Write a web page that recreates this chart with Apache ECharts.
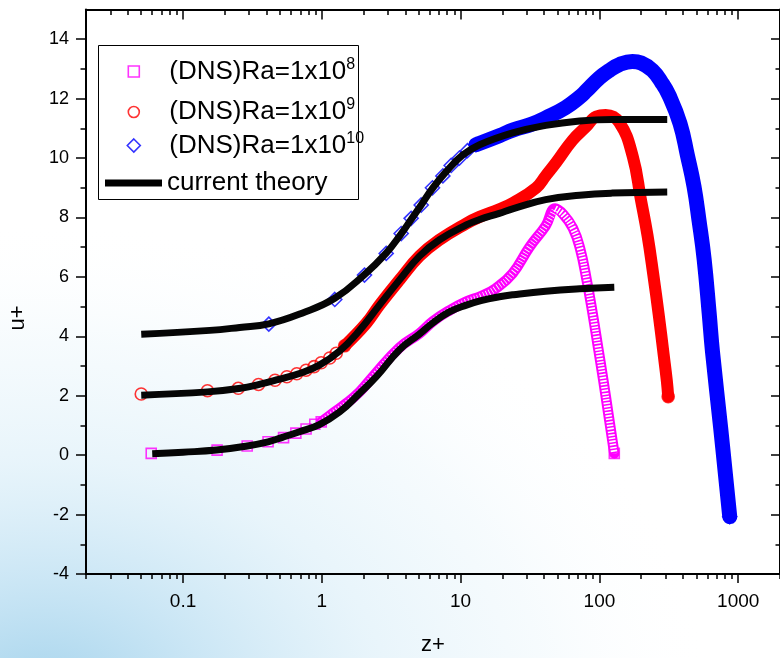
<!DOCTYPE html>
<html><head><meta charset="utf-8">
<script src="https://cdn.jsdelivr.net/npm/echarts@6/dist/echarts.min.js"></script>
<style>html,body{margin:0;padding:0;background:#fff}#c{width:780px;height:658px}</style>
</head><body><div id="c"></div>
<script>
// ---- DNS data ----
const z8 = [0.059, 0.176, 0.29, 0.41, 0.53, 0.65, 0.77, 0.89, 0.99, 1.2, 1.5, 1.87, 2.33, 3.63, 5.06, 6.3, 8.3, 11, 14, 18, 23.7, 31.3, 41, 48, 55, 64.4, 72.5, 81, 89.3, 97.6, 106.6, 115.8, 128];
const u8 = [0.06, 0.17, 0.31, 0.45, 0.59, 0.74, 0.88, 1.04, 1.12, 1.41, 1.74, 2.13, 2.64, 3.62, 4.1, 4.5, 4.87, 5.17, 5.35, 5.62, 6.12, 7.0, 7.72, 8.3, 8.1, 7.64, 6.96, 5.89, 4.77, 3.65, 2.53, 1.41, 0.06];
const z9 = [0.05, 0.15, 0.25, 0.35, 0.46, 0.56, 0.66, 0.77, 0.88, 0.99, 1.14, 1.27, 1.46, 2.09, 2.6, 3.63, 5.06, 7.05, 11, 13.7, 19, 24, 35, 41, 49, 64, 80, 95, 111, 139, 174, 199, 222, 244, 267, 290, 306, 313];
const u9 = [2.06, 2.17, 2.25, 2.38, 2.52, 2.64, 2.74, 2.86, 2.98, 3.11, 3.27, 3.43, 3.68, 4.44, 5.05, 5.9, 6.7, 7.25, 7.8, 8.02, 8.28, 8.5, 9.0, 9.4, 9.86, 10.6, 11.05, 11.4, 11.45, 11.2, 10.05, 8.6, 7.4, 6.1, 4.75, 3.4, 2.5, 1.97];
const z10 = [0.415, 1.24, 2.03, 2.91, 3.73, 4.4, 5.2, 6.27, 7.45, 8.55, 9.8, 11.2, 12.9, 19, 24, 33, 41, 57, 72, 80, 100, 118, 140, 173, 200, 241, 280, 318, 381, 430, 480, 522, 568, 617, 652, 748, 869];
const u10 = [4.41, 5.24, 6.06, 6.79, 7.46, 7.97, 8.42, 9.0, 9.4, 9.75, 10.0, 10.25, 10.45, 10.75, 10.95, 11.15, 11.35, 11.7, 12.05, 12.25, 12.7, 12.95, 13.15, 13.25, 13.2, 12.95, 12.55, 12.1, 11.16, 10.1, 9.05, 7.9, 6.6, 4.8, 3.5, 0.9, -2.07];
// number of leading points drawn as separate hollow markers
const sparse8 = 9, sparse9 = 13, sparse10 = 13;
// index of the Ra=1e8 peak, after which the square markers are seen one by one
const peak8 = 23;

// ---- current theory ----
const zt8 = [0.06, 0.1, 0.174, 0.29, 0.41, 0.52, 0.69, 0.96, 1.34, 1.87, 2.47, 3.63, 5.06, 6.3, 8.3, 11, 14, 19, 24, 41, 72, 128];
const ut8 = [0.05, 0.1, 0.17, 0.31, 0.45, 0.6, 0.79, 1.03, 1.45, 2.08, 2.64, 3.55, 4.08, 4.45, 4.82, 5.05, 5.2, 5.33, 5.4, 5.52, 5.6, 5.65];
const zt9 = [0.05, 0.15, 0.26, 0.36, 0.47, 0.69, 0.96, 1.34, 1.87, 2.6, 3.63, 5.06, 7.05, 11, 13.7, 19, 24, 41, 72, 123, 308];
const ut9 = [2.02, 2.13, 2.25, 2.39, 2.53, 2.75, 3.03, 3.5, 4.2, 5.05, 5.9, 6.7, 7.25, 7.75, 7.93, 8.14, 8.3, 8.6, 8.75, 8.82, 8.86];
const zt10 = [0.05, 0.156, 0.256, 0.415, 0.72, 1.24, 2.03, 2.91, 3.73, 4.4, 5.2, 6.27, 7.9, 10.35, 13.7, 23.7, 41, 72, 123, 308];
const ut10 = [4.07, 4.2, 4.3, 4.42, 4.78, 5.28, 6.08, 6.8, 7.45, 7.93, 8.42, 8.98, 9.55, 10.1, 10.45, 10.85, 11.1, 11.25, 11.3, 11.3];

// ---- ticks ----
const xMajorTicks = [0.1, 1, 10, 100, 1000];
const xMinorTicks = [0.02,0.03,0.04,0.05,0.06,0.07,0.08,0.09,0.2,0.3,0.4,0.5,0.6,0.7,0.8,0.9,2,3,4,5,6,7,8,9,20,30,40,50,60,70,80,90,200,300,400,500,600,700,800,900,2000];
const yMajorTicks = [-4, -2, 0, 2, 4, 6, 8, 10, 12, 14];
const yMinorTicks = [-3, -1, 1, 3, 5, 7, 9, 11, 13];
const legendText = {
  Ra8: '(DNS)Ra=1x10{s|8}',
  Ra9: '(DNS)Ra=1x10{s|9}',
  Ra10: '(DNS)Ra=1x10{s|10}',
  theory: 'current theory'
};

const FF = '"Liberation Sans", Arial, sans-serif';
const C8 = '#ff00ff', C9 = '#ff0000', C10 = '#0000ff';

const pts = (zs, us, a, b) => zs.slice(a, b).map((z, i) => [z, us[a + i]]);
function markers(zs, us, n, color) {
  const d = pts(zs, us, 0, n);
  d.push({value: [zs[zs.length - 1], us[us.length - 1]], itemStyle: {color: '#ffffff', borderColor: color}});
  return d;
}
const fmt = v => String(+Number(v).toPrecision(4));

const chart = echarts.init(document.getElementById('c'), null, {renderer: 'canvas', width: 780, height: 658});

function xAx(grid, pos, ticks, len, inside, line, label) {
  return {
    gridIndex: grid, type: 'log', logBase: 10, min: 0.02, max: 2000, position: pos,
    axisLine: {show: line, onZero: false, lineStyle: {color: '#000', width: 2}},
    axisTick: {show: true, inside: inside, length: len, customValues: ticks, lineStyle: {color: '#000', width: 1.5}},
    axisLabel: label ? {show: true, customValues: ticks, margin: 18, fontSize: 19, color: '#000', fontFamily: FF, formatter: fmt} : {show: false},
    splitLine: {show: false}, minorTick: {show: false}
  };
}
function yAx(grid, pos, ticks, len, inside, line, label) {
  return {
    gridIndex: grid, type: 'value', min: -4, max: 15, position: pos,
    axisLine: {show: line, onZero: false, lineStyle: {color: '#000', width: 2}},
    axisTick: {show: true, inside: inside, length: len, customValues: ticks, lineStyle: {color: '#000', width: 1.5}},
    axisLabel: label ? {show: true, customValues: ticks, margin: 17, fontSize: 18, color: '#000', fontFamily: FF, formatter: fmt} : {show: false},
    splitLine: {show: false}, minorTick: {show: false}
  };
}

const bandBase = {type: 'line', symbol: 'none', showSymbol: false, smooth: 0.45, silent: true, xAxisIndex: 0, yAxisIndex: 0};
const theoryBase = {type: 'line', name: 'theory', symbol: 'none', showSymbol: false, smooth: 0.45, silent: true, xAxisIndex: 0, yAxisIndex: 0,
  itemStyle: {color: '#000'}, lineStyle: {color: '#050505', width: 7, cap: 'butt', join: 'round'}};

function legendFor(name, top, left, w, h, icon, itemStyle, pad) {
  return {
    data: [{name: name, icon: icon, itemStyle: itemStyle}],
    left: left, top: top, itemWidth: w, itemHeight: h, padding: 0, selectedMode: false, orient: 'horizontal',
    formatter: n => legendText[n],
    textStyle: {fontFamily: FF, fontSize: 26, color: '#000', lineHeight: 30, padding: [0, 0, 0, pad],
      rich: {s: {fontFamily: FF, fontSize: 16, lineHeight: 10, verticalAlign: 'top', color: '#000'}}}
  };
}

const option = {
  animation: false,
  backgroundColor: '#ffffff',
  grid: [{left: 86, right: 0, top: 9.5, bottom: 84}, {left: 86, right: 0, top: 9.5, bottom: 84}],
  xAxis: [
    xAx(0, 'bottom', xMajorTicks, 9, false, true, true),
    xAx(0, 'top', xMajorTicks, 10, true, true, false),
    xAx(1, 'bottom', xMinorTicks, 5, false, false, false),
    xAx(1, 'top', xMinorTicks, 5.5, true, false, false)
  ],
  yAxis: [
    yAx(0, 'left', yMajorTicks, 10, false, true, true),
    yAx(0, 'right', yMajorTicks, 9, true, true, false),
    yAx(1, 'left', yMinorTicks, 5.5, false, false, false),
    yAx(1, 'right', yMinorTicks, 4.5, true, false, false)
  ],
  legend: [
    legendFor('Ra8', 56.5, 127.5, 11, 11, 'rect', {color: 'rgba(0,0,0,0)', borderColor: C8, borderWidth: 1.6}, 25),
    legendFor('Ra9', 97, 127.5, 11, 11, 'circle', {color: 'rgba(0,0,0,0)', borderColor: C9, borderWidth: 1.6}, 25),
    legendFor('Ra10', 130.5, 126.5, 13, 13, 'diamond', {color: 'rgba(0,0,0,0)', borderColor: C10, borderWidth: 1.6}, 24),
    legendFor('theory', 168, 105, 57, 7, 'rect', {color: '#000'}, 0)
  ],
  graphic: [
    {type: 'rect', z: -5, silent: true, x: 0, y: 100, scaleX: 1.4, scaleY: 1,
      shape: {x: 0, y: 0, width: 600, height: 600},
      style: {fill: {type: 'radial', x: 0.05, y: 1.0, r: 0.8, colorStops: [
        {offset: 0, color: 'rgba(125,192,228,0.7)'},
        {offset: 0.25, color: 'rgba(160,210,237,0.55)'},
        {offset: 0.5, color: 'rgba(200,230,245,0.42)'},
        {offset: 0.75, color: 'rgba(228,243,250,0.32)'},
        {offset: 1, color: 'rgba(255,255,255,0)'}]}}},
    {type: 'rect', z: 3, silent: true, shape: {x: 98.5, y: 45.5, width: 260, height: 154},
      style: {fill: '#ffffff', stroke: '#000', lineWidth: 1}},
    {type: 'text', z: 5, x: 433, y: 645, style: {text: 'z+', font: '22px ' + FF, fill: '#000', textAlign: 'center', textVerticalAlign: 'middle'}},
    {type: 'text', z: 5, x: 18, y: 318, rotation: Math.PI / 2, style: {text: 'u+', font: '22px ' + FF, fill: '#000', textAlign: 'center', textVerticalAlign: 'middle'}}
  ],
  series: [
    Object.assign({}, bandBase, {name: 'band8', data: pts(z8, u8, sparse8 - 1, z8.length), lineStyle: {color: C8, width: 10.5, cap: 'round', join: 'round'}}),
    Object.assign({}, bandBase, {name: 'band8r', data: pts(z8, u8, sparse8 - 1, peak8 + 1), lineStyle: {color: '#ffffff', width: 6, type: [0.8, 2.4], cap: 'butt', join: 'round'}}),
    Object.assign({}, bandBase, {name: 'band8w', data: pts(z8, u8, peak8, z8.length), lineStyle: {color: '#ffffff', width: 6.5, type: [1.6, 1.6], cap: 'butt', join: 'round'}}),
    Object.assign({}, bandBase, {name: 'band9', data: pts(z9, u9, sparse9 - 1, z9.length), lineStyle: {color: C9, width: 12, cap: 'round', join: 'round'}}),
    Object.assign({}, bandBase, {name: 'band10', data: pts(z10, u10, sparse10 - 1, z10.length), lineStyle: {color: C10, width: 15, cap: 'round', join: 'round'}}),
    {type: 'scatter', name: 'Ra8', symbol: 'rect', symbolSize: 10, silent: true, data: markers(z8, u8, sparse8, C8),
      itemStyle: {color: 'rgba(0,0,0,0)', borderColor: C8, borderWidth: 1.6}},
    {type: 'scatter', name: 'Ra9', symbol: 'circle', symbolSize: 12, silent: true, data: markers(z9, u9, sparse9, C9),
      itemStyle: {color: 'rgba(0,0,0,0)', borderColor: C9, borderWidth: 1.6}},
    {type: 'scatter', name: 'Ra10', symbol: 'diamond', symbolSize: 14, silent: true, data: markers(z10, u10, sparse10, C10),
      itemStyle: {color: 'rgba(0,0,0,0)', borderColor: C10, borderWidth: 1.6}},
    Object.assign({}, theoryBase, {data: pts(zt8, ut8, 0, zt8.length)}),
    Object.assign({}, theoryBase, {data: pts(zt9, ut9, 0, zt9.length)}),
    Object.assign({}, theoryBase, {data: pts(zt10, ut10, 0, zt10.length)})
  ]
};
chart.setOption(option);
</script></body></html>
